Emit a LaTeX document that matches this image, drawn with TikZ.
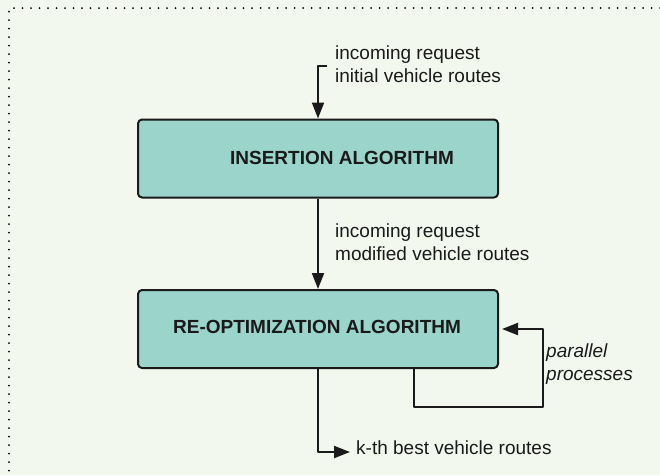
\documentclass[tikz,border=0pt]{standalone}
\usepackage{fontspec}
\setmainfont{Liberation Sans}
\usepackage{xcolor}
\usetikzlibrary{arrows.meta,positioning}

\definecolor{bgpanel}{HTML}{F3F8EF}
\definecolor{algfill}{HTML}{9BD4CB}
\definecolor{edge}{HTML}{1A1A1A}

\tikzset{
  algbox/.style={draw=edge, fill=algfill, line width=2pt, rounded corners=4pt,
    minimum width=360pt, minimum height=78pt, inner sep=0pt},
  algtext/.style={font=\fontsize{19}{23}\selectfont\bfseries, text=edge, inner sep=0pt},
  note/.style={font=\fontsize{19}{23}\selectfont, text=edge, align=left, anchor=west, inner sep=0pt},
  flow/.style={draw=edge, line width=2pt, -{Triangle[length=16pt,width=12pt]}}
}

\begin{document}
\begin{tikzpicture}[x=1pt, y=-1pt, line join=round]

                        % panel
                        \fill[bgpanel] (0,0) rectangle (660,475);
                        \useasboundingbox (0,0) rectangle (660,475);
                        \draw[black, line width=2pt, line cap=round, dash pattern=on 0pt off 8.5pt]
                            (660,8) -- (9,8) -- (9,475);

                        % algorithm boxes
                        \node[algbox] (insert) at (318,158.5) {};
                        \node[algtext] (inserttext) at (342,158) {INSERTION ALGORITHM};
                        \node[algbox] (reopt) at (318,329) {};
                        \node[algtext] (reopttext) at (317,327) {RE-OPTIMIZATION ALGORITHM};

                        % free ends
                        \coordinate (in) at (327,66);
                        \coordinate (out) at (350,452);
                        \coordinate (loop) at (543,407);

                        % texts
                        \node[note] (inlabel) at (335,64) {incoming request\\initial vehicle routes};
                        \node[note] (midlabel) at (335,242) {incoming request\\modified vehicle routes};
                        \node[note, font=\fontsize{19}{23}\selectfont\itshape] (looplabel) at (546,364) {parallel\\processes};
                        \node[note] (outlabel) at (356,448) {k-th best vehicle routes};

                        % connectors
                        \draw[flow] (in) -| (insert.north);
                        \draw[flow] (insert.south) -- (reopt.north);
                        \draw[flow] (reopt.south) |- (out);
                        \draw[flow] ([xshift=96pt]reopt.south) |- (loop) |- ([xshift=3pt]reopt.east);

                    \end{tikzpicture}
\end{document}
